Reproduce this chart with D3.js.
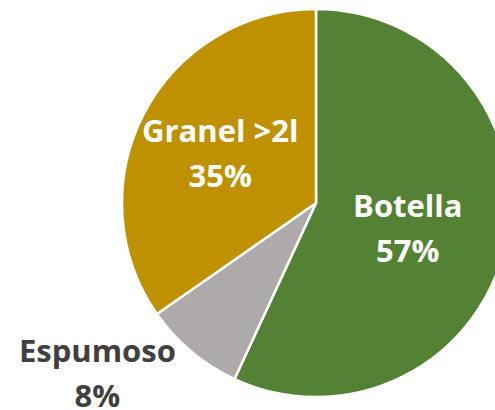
<!DOCTYPE html>
<html>
<head>
<meta charset="utf-8">
<script src="https://cdn.jsdelivr.net/npm/d3@7"></script>
<style>
	body { margin: 0; background: #ffffff; }
	.slice-label { font-family: "Open Sans", sans-serif; font-weight: 700; font-size: 31px; }
</style>
</head>
<body>
<div id="chart"></div>
<script>

// data
let categories = ["Botella", "Espumoso", "Granel >2l"];
let shares = [56.9, 8.4, 34.7];
let colors = ["#548235", "#AEAAAA", "#BF9000"];

let width = 495,
	height = 410;

let cx = 316, cy = 203, radius = 194;

let svg = d3.select("#chart").append("svg")
	.attr("width", width)
	.attr("height", height);

let g = svg.append("g")
	.attr("transform", "translate(" + cx + "," + cy + ")");

let pie = d3.pie()
	.sort(null)
	.value(d => d.value);

let arc = d3.arc()
	.innerRadius(0)
	.outerRadius(radius);

let data = categories.map((c, i) => ({name: c, value: shares[i], color: colors[i]}));
let arcs = pie(data);

g.selectAll("path.slice")
	.data(arcs)
	.enter()
	.append("path")
	.attr("class", "slice")
	.attr("d", arc)
	.attr("fill", d => d.data.color)
	.attr("stroke", "#ffffff")
	.attr("stroke-width", 2.5)
	.attr("stroke-linejoin", "round");

// label placement: inside labels on a label arc, Espumoso sits outside to the left
function labelPos(d) {
	if (d.data.name === "Botella") {
		let a = d3.arc().innerRadius(94).outerRadius(94);
		let c = a.centroid(d);
		return [c[0], c[1] - 6];
	}
	if (d.data.name === "Granel >2l") {
		let a = d3.arc().innerRadius(108).outerRadius(108);
		let c = a.centroid(d);
		return [c[0], c[1] - 11];
	}
	// outside label
	let a = d3.arc().innerRadius(radius).outerRadius(radius);
	let c = a.centroid(d);
	return [c[0] - 94, c[1] + 10];
}

let labs = g.selectAll("text.slice-label")
	.data(arcs)
	.enter()
	.append("text")
	.attr("class", "slice-label")
	.attr("text-anchor", "middle")
	.attr("fill", d => d.data.name === "Espumoso" ? "#404040" : "#ffffff")
	.attr("transform", d => "translate(" + labelPos(d) + ")");

labs.append("tspan")
	.attr("x", 0)
	.attr("y", 0)
	.text(d => d.data.name);

labs.append("tspan")
	.attr("x", 0)
	.attr("y", 45)
	.text(d => Math.round(d.data.value) + "%");

</script>
</body>
</html>
